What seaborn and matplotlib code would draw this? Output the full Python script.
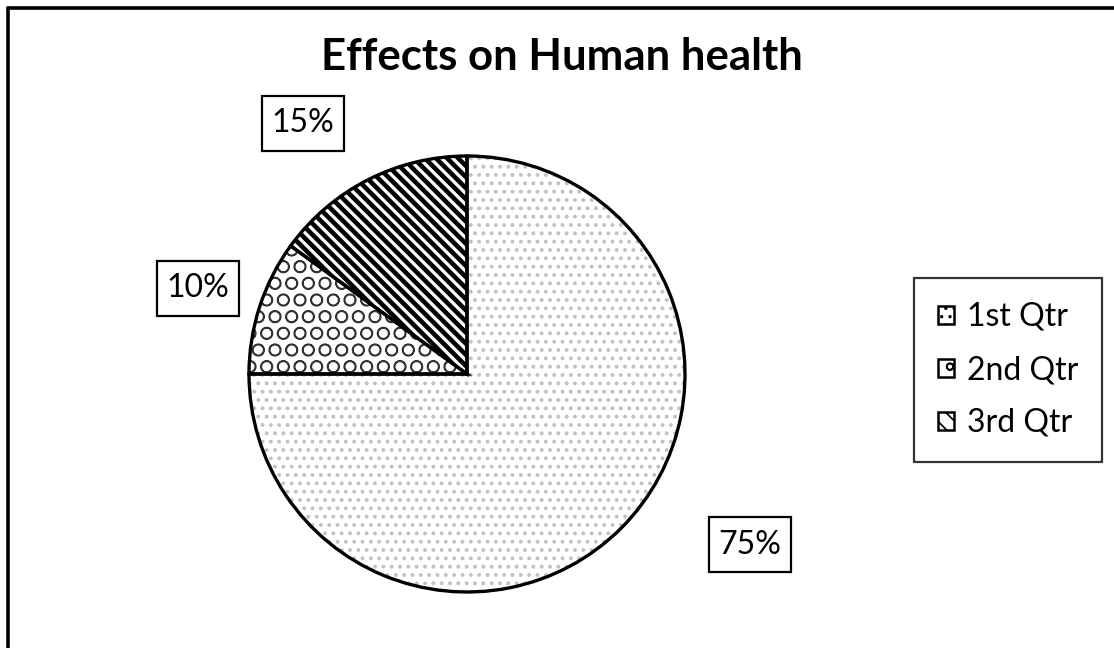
import matplotlib
matplotlib.use("Agg")
import matplotlib.pyplot as plt
import matplotlib.transforms as mtransforms
import seaborn as sns
from matplotlib.patches import Patch, Rectangle
from matplotlib.lines import Line2D

# ---- data ----
categories = ["1st Qtr", "2nd Qtr", "3rd Qtr"]
values = [75, 10, 15]
title = "Effects on Human health"

sns.set_theme(style="white")
plt.rcParams["font.family"] = ["Lato", "DejaVu Sans"]
plt.rcParams["text.color"] = "black"

W, H = 1114, 648
fig = plt.figure(figsize=(W / 100, H / 100), dpi=100)
fig.patch.set_facecolor("white")

# pie axes: centre (467, 374) px from top-left, radius 218 px
cx, cy, r = 467, 374, 218
ax = fig.add_axes([(cx - r) / W, (H - cy - r) / H, 2 * r / W, 2 * r / H])

hatches = ["..", "O", "\\\\\\"]
hatch_cols = ["#c2c2c2", "#333333", "black"]
hatch_lw = [1.6, 1.1, 3.3]

# hatch layer: one pie call per wedge so each gets its own hatch width
for i in range(len(values)):
    plt.rcParams["hatch.linewidth"] = hatch_lw[i]
    ws, _ = ax.pie(values, startangle=90, counterclock=False, radius=1,
                   wedgeprops=dict(linewidth=0, facecolor="white"))
    for j, w in enumerate(ws):
        if j != i:
            w.set_visible(False)
            continue
        w.set_hatch(hatches[i])
        w.set_edgecolor(hatch_cols[i])
        w.set_linewidth(0)
        if hasattr(w, "set_hatch_linewidth"):
            w.set_hatch_linewidth(hatch_lw[i])
plt.rcParams["hatch.linewidth"] = 1.2

# outline layer
ax.pie(values, startangle=90, counterclock=False, radius=1,
       wedgeprops=dict(fill=False, edgecolor="black", linewidth=2.4))
ax.set_xlim(-1, 1)
ax.set_ylim(-1, 1)
ax.set_aspect("equal")
ax.axis("off")

# percentage labels (positions in pie-radius units), boxed
label_pos = [(1.298, -0.784), (-1.234, 0.394), (-0.752, 1.151)]
total = sum(values)
for v, (lx, ly) in zip(values, label_pos):
    ax.text(lx, ly, f"{round(100 * v / total)}%", ha="center", va="center",
            fontsize=23, color="black", clip_on=False, zorder=5)
    tr = fig.dpi_scale_trans + mtransforms.ScaledTranslation(lx, ly, ax.transData)
    ax.add_patch(Rectangle((-0.41, -0.275), 0.82, 0.55, transform=tr,
                           facecolor="white", edgecolor="black",
                           linewidth=1.6, clip_on=False, zorder=4))

# title
fig.text(562 / W, 1 - 57 / H, title, ha="center", va="center",
         fontsize=31.5, fontweight="bold", color="black")

# legend
handles = [Patch(facecolor="white", edgecolor="black", hatch=h, linewidth=1.8)
           for h in ["..", "o", "\\\\"]]
leg = fig.legend(handles, categories, loc="center",
                 bbox_to_anchor=(1008 / W, 1 - 370 / H),
                 fontsize=23, frameon=True, fancybox=False, shadow=False,
                 handlelength=0.5, handleheight=0.5, handletextpad=0.4,
                 labelspacing=0.72, borderpad=0.75, borderaxespad=0,
                 labelcolor="black")
leg.get_frame().set_edgecolor("black")
leg.get_frame().set_linewidth(1.6)
leg.get_frame().set_facecolor("white")

# outer chart border (top and left edges visible)
fig.add_artist(Line2D([7.5 / W, 7.5 / W], [0, 1 - 7.5 / H], color="black",
                      linewidth=2.6, transform=fig.transFigure))
fig.add_artist(Line2D([7.5 / W, 1], [1 - 7.5 / H, 1 - 7.5 / H], color="black",
                      linewidth=2.6, transform=fig.transFigure))

fig.savefig("out.png", dpi=100)
